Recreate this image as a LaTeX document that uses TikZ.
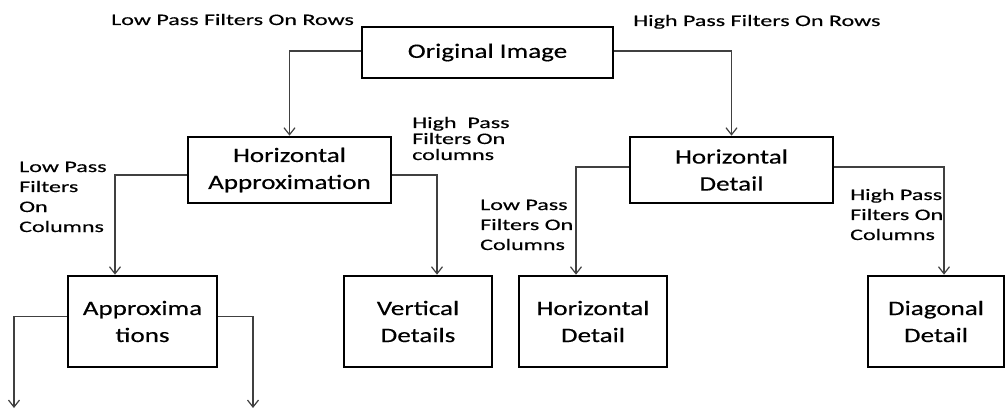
\documentclass[tikz,border=0pt]{standalone}
\usepackage{fontspec}
\setmainfont{Carlito}
\newfontfamily\lblfont{Carlito}[FakeStretch=1.5,FakeBold=0.4]
\newfontfamily\boxfont{Carlito}[FakeStretch=1.32,FakeBold=0.4]
\usetikzlibrary{arrows.meta,calc}
\begin{document}
\begin{tikzpicture}[x=1pt,y=-1pt,
  stagebox/.style={draw=black,line width=2.6pt,rectangle,inner sep=0pt,
    align=center,font=\boxfont\fontsize{20.5}{27}\selectfont},
  link/.style={draw=black!75,line width=1.3pt,
    -{Straight Barb[length=7pt,width=11pt,line width=1.2pt]}},
  lbl/.style={inner sep=0pt,anchor=base west,align=left,
    font=\lblfont\fontsize{16}{20}\selectfont}]
\useasboundingbox (0,0) rectangle (1007,409);

% decomposition boxes
\node[stagebox,minimum width=251,minimum height=51] (orig) at (487.5,52.5) {Original Image};
\node[stagebox,minimum width=203,minimum height=66] (ha) at (289.5,170) {Horizontal\\Approximation};
\node[stagebox,minimum width=203,minimum height=66] (hd) at (731.5,170) {Horizontal\\Detail};
\node[stagebox,minimum width=149,minimum height=91] (ap) at (142.5,321.5) {Approxima\\tions};
\node[stagebox,minimum width=148,minimum height=91] (vd) at (418,321.5) {Vertical\\Details};
\node[stagebox,minimum width=148,minimum height=91] (hd2) at (593,321.5) {Horizontal\\Detail};
\node[stagebox,minimum width=136,minimum height=91] (dd) at (936,321.5) {Diagonal\\Detail};

% loose ends of the next level
\coordinate (apl) at (14,408);
\coordinate (apr) at (253,408);

% filter labels (anchored at the baseline of their last line)
\node[lbl] (l1) at (111,25) {Low Pass Filters On Rows};
\node[lbl] (l2) at (633,26) {High Pass Filters On Rows};
\node[lbl,font=\lblfont\fontsize{16}{16}\selectfont] (l3) at (412,160) {High\ \ Pass\\Filters On\\columns};
\node[lbl] (l4) at (19,232) {Low Pass\\Filters\\On\\Columns};
\node[lbl] (l5) at (480,250) {Low Pass\\Filters On\\Columns};
\node[lbl] (l6) at (850,240) {High Pass\\Filters On\\Columns};

% connectors
\draw[link] ($(orig.west)+(0,-1.5)$) -| (ha.north);
\draw[link] ($(orig.east)+(0,-1.5)$) -| (hd.north);
\draw[link] ($(ha.west)+(0,5)$) -| ([xshift=-27.5pt]ap.north);
\draw[link] ($(ha.east)+(0,5)$) -| ([xshift=19pt]vd.north);
\draw[link] ($(hd.west)+(0,-3)$) -| ([xshift=-17pt]hd2.north);
\draw[link] ($(hd.east)+(0,-3)$) -| ([xshift=8pt]dd.north);
\draw[link] ($(ap.west)+(0,-5)$) -| (apl);
\draw[link] ($(ap.east)+(0,-5)$) -| (apr);
\end{tikzpicture}
\end{document}
